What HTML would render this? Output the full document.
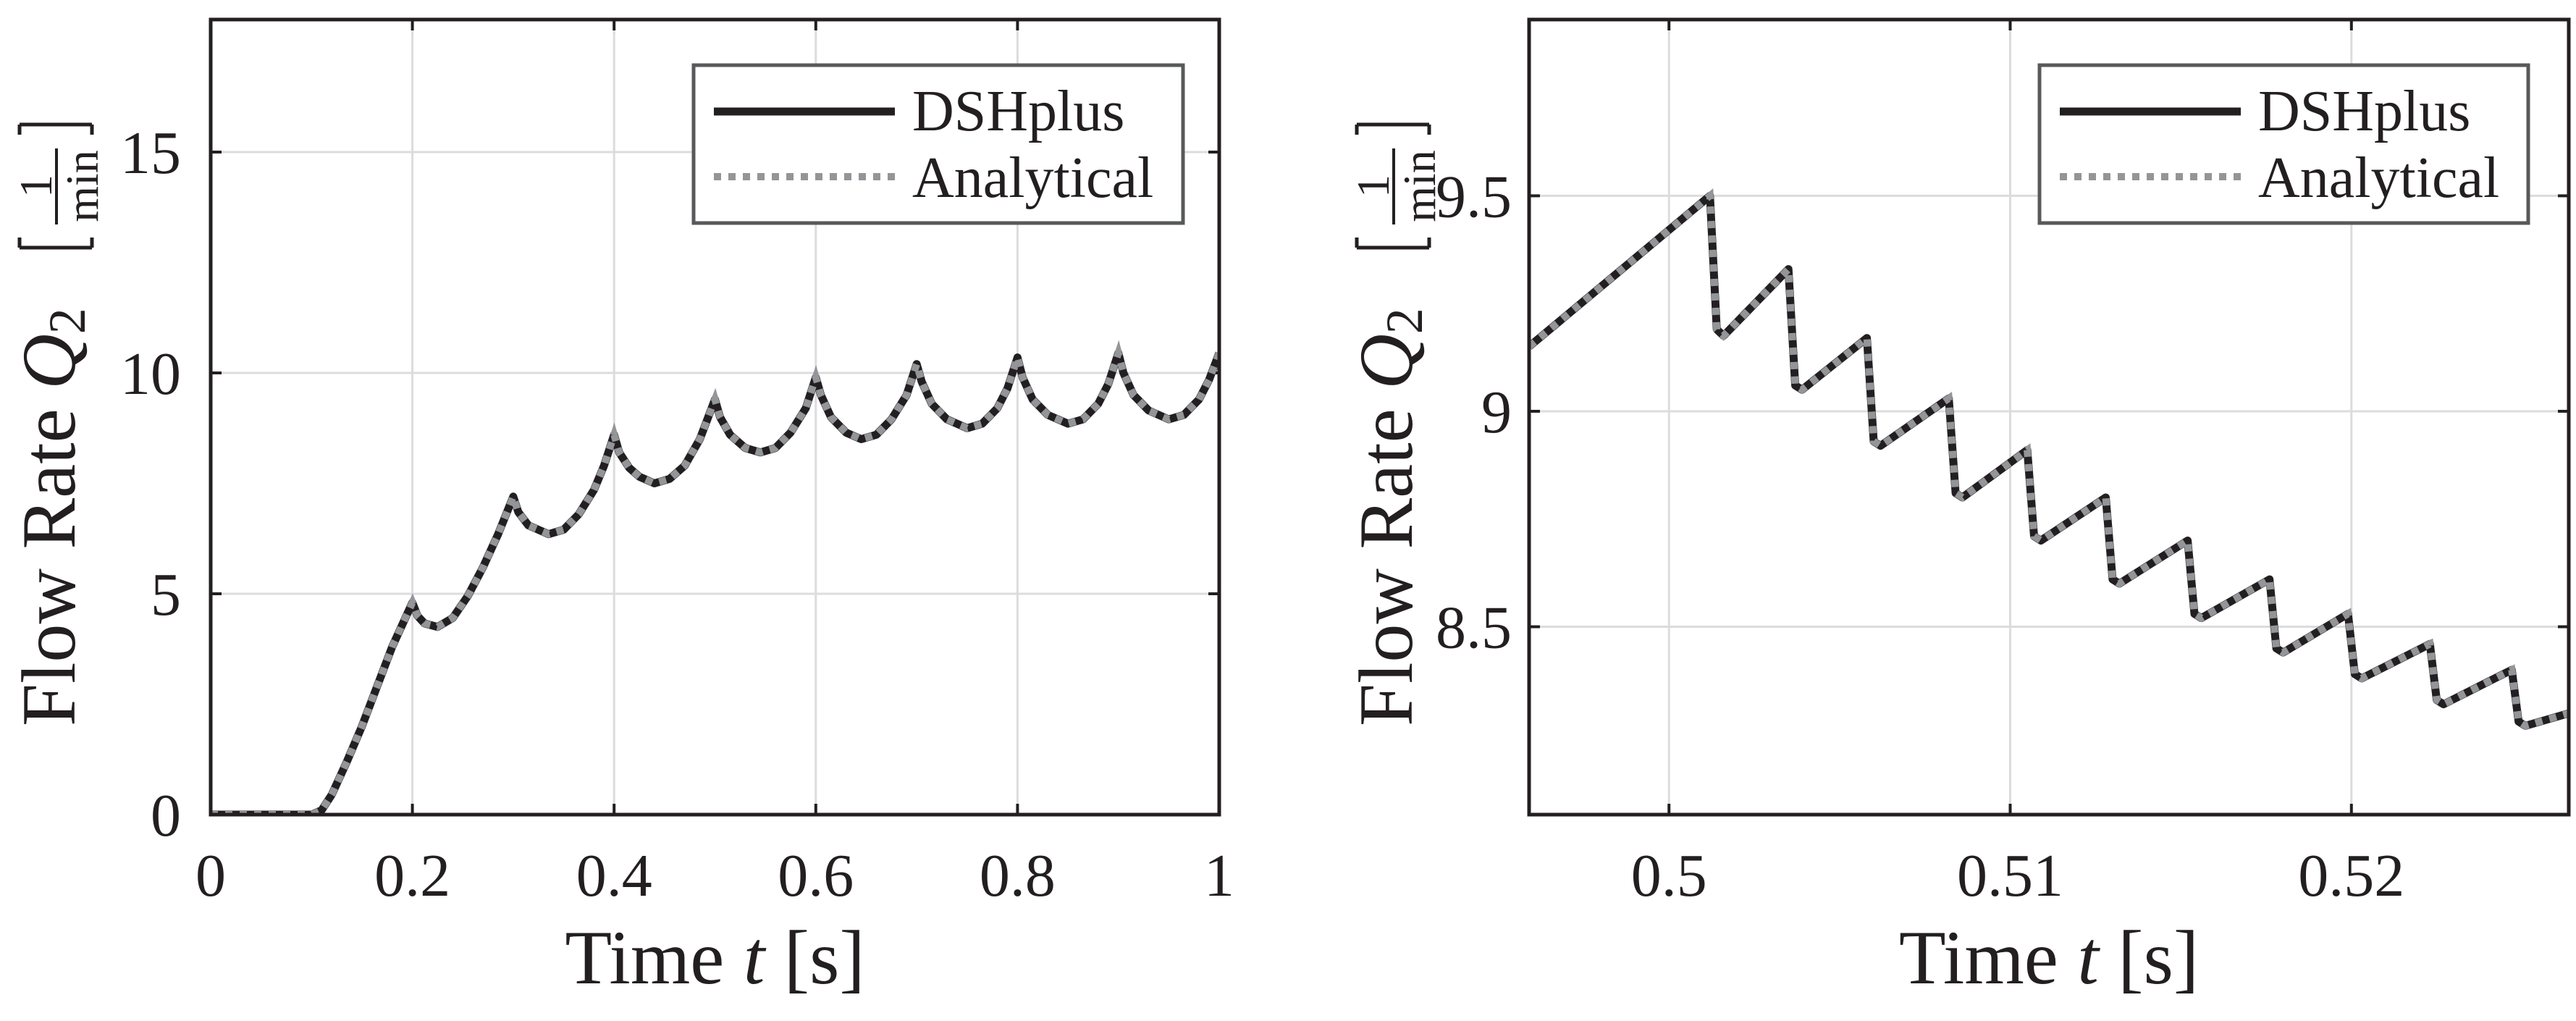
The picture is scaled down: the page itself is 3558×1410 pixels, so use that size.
<!DOCTYPE html>
<html><head><meta charset="utf-8">
<style>html,body{margin:0;padding:0;background:#fff}svg{display:block}
text{font-family:"Liberation Serif",serif;fill:#231f20}</style></head>
<body>
<svg id="fig" width="3558" height="1410" viewBox="0 0 3558 1410" xmlns="http://www.w3.org/2000/svg"></svg>
<script>
// Left chart data
const leftTime = [0,0.1,0.11,0.12,0.135,0.15,0.165,0.18,0.2,
  0.205,0.212,0.225,0.24,0.255,0.27,0.285,0.3,
  0.305,0.315,0.335,0.35,0.365,0.38,0.39,0.4,
  0.405,0.415,0.425,0.44,0.455,0.47,0.485,0.5,
  0.505,0.515,0.53,0.545,0.56,0.575,0.59,0.6,
  0.605,0.615,0.63,0.645,0.66,0.675,0.69,0.7,
  0.705,0.715,0.73,0.75,0.765,0.78,0.79,0.8,
  0.805,0.815,0.83,0.85,0.865,0.88,0.89,0.9,
  0.905,0.915,0.93,0.95,0.965,0.98,0.99,1.0];
const leftFlow = [0,0,0.1,0.45,1.2,2.0,2.9,3.8,4.8,
  4.5,4.33,4.25,4.45,4.95,5.6,6.35,7.2,
  6.85,6.55,6.35,6.45,6.8,7.35,7.9,8.6,
  8.2,7.85,7.65,7.5,7.6,7.9,8.5,9.4,
  9.0,8.6,8.3,8.2,8.3,8.65,9.2,9.9,
  9.5,9.0,8.65,8.5,8.6,8.95,9.5,10.2,
  9.8,9.3,8.95,8.75,8.85,9.2,9.65,10.35,
  9.9,9.4,9.05,8.85,8.95,9.3,9.75,10.45,
  10.0,9.5,9.15,8.95,9.05,9.4,9.85,10.45];
const leftXTicks = [0,0.2,0.4,0.6,0.8,1];
const leftXTickLabels = ["0","0.2","0.4","0.6","0.8","1"];
const leftYTicks = [0,5,10,15];
const leftYTickLabels = ["0","5","10","15"];
// Right chart data
const rightTime = [0.4959,0.5012,0.5014,0.5016,0.5035,0.5037,0.5039,0.5058,0.5060,0.5062,0.5082,0.5084,0.5086,0.5105,0.5107,0.5109,0.5128,0.5130,0.5132,0.5152,0.5154,0.5156,0.5176,0.5178,0.5180,0.5199,0.5201,0.5203,0.5223,0.5225,0.5227,0.5247,0.5249,0.5251,0.5264];
const rightFlow = [9.15,9.5,9.19,9.175,9.33,9.06,9.05,9.17,8.93,8.92,9.03,8.81,8.80,8.91,8.71,8.70,8.80,8.61,8.60,8.70,8.53,8.52,8.61,8.45,8.44,8.53,8.39,8.38,8.46,8.33,8.32,8.40,8.28,8.27,8.30];
const rightXTicks = [0.5,0.51,0.52];
const rightXTickLabels = ["0.5","0.51","0.52"];
const rightYTicks = [8.5,9,9.5];
const rightYTickLabels = ["8.5","9","9.5"];

const NS="http://www.w3.org/2000/svg";
const svg=document.getElementById('fig');
function mk(tag,attrs,parent){const e=document.createElementNS(NS,tag);for(const k in attrs)e.setAttribute(k,attrs[k]);(parent||svg).appendChild(e);return e;}

function chart(cfg){
  const g=mk('g',{});
  
  
  const {x0,x1,y0,y1,xmin,xmax,ymin,ymax}=cfg;
  const sx=v=>x0+(v-xmin)/(xmax-xmin)*(x1-x0);
  const sy=v=>y1-(v-ymin)/(ymax-ymin)*(y1-y0);
  cfg.xTicks.forEach((t,i)=>{
    const gl=mk('line',{x1:sx(t),x2:sx(t),y1:y0,y2:y1,stroke:'#dcdcdc','stroke-width':3},g);
    
    
    mk('line',{x1:sx(t),x2:sx(t),y1:y1,y2:y1-15,stroke:'#231f20','stroke-width':4},g);
    mk('line',{x1:sx(t),x2:sx(t),y1:y0,y2:y0+15,stroke:'#231f20','stroke-width':4},g);
    const tl=mk('text',{x:sx(t),y:1237,'font-size':84,'text-anchor':'middle'},g);
    tl.textContent=cfg.xLabels[i];
    
    
  });
  cfg.yTicks.forEach((t,i)=>{
    const gl=mk('line',{x1:x0,x2:x1,y1:sy(t),y2:sy(t),stroke:'#dcdcdc','stroke-width':3},g);
    
    
    mk('line',{x1:x0,x2:x0+15,y1:sy(t),y2:sy(t),stroke:'#231f20','stroke-width':4},g);
    mk('line',{x1:x1,x2:x1-15,y1:sy(t),y2:sy(t),stroke:'#231f20','stroke-width':4},g);
    const tl=mk('text',{x:cfg.yLabelX,y:sy(t)+29,'font-size':84,'text-anchor':'end'},g);
    tl.textContent=cfg.yLabels[i];
    
    
  });
  const d=cfg.tx.map((t,i)=>(i?'L':'M')+sx(t).toFixed(1)+','+sy(cfg.ty[i]).toFixed(1)).join(' ');
  const clip=mk('clipPath',{id:cfg.name+'-clip'},g);
  mk('rect',{x:x0,y:y0,width:x1-x0,height:y1-y0},clip);
  const l1=mk('path',{d:d,fill:'none',stroke:'#231f20','stroke-width':11,'stroke-linejoin':'round','clip-path':'url(#'+cfg.name+'-clip)'},g);
  
  
  const l2=mk('path',{d:d,fill:'none',stroke:'#939598','stroke-width':10,'stroke-dasharray':'10 10','clip-path':'url(#'+cfg.name+'-clip)'},g);
  
  
  const fr=mk('rect',{x:x0,y:y0,width:x1-x0,height:y1-y0,fill:'none',stroke:'#231f20','stroke-width':5},g);
  
  
  // legend
  const L=cfg.leg;
  const lg=mk('g',{},g);
  
  
  mk('rect',{x:L.x,y:90,width:L.w,height:218,fill:'#fff',stroke:'#58595b','stroke-width':5},lg);
  mk('line',{x1:L.x+28,x2:L.x+278,y1:154,y2:154,stroke:'#231f20','stroke-width':11},lg);
  mk('line',{x1:L.x+28,x2:L.x+278,y1:244,y2:244,stroke:'#939598','stroke-width':10,'stroke-dasharray':'10 10'},lg);
  const t1=mk('text',{x:L.x+302,y:180,'font-size':80},lg);t1.textContent='DSHplus';
  
  
  const t2=mk('text',{x:L.x+302,y:272,'font-size':80},lg);t2.textContent='Analytical';
  
  
  // x title
  const xt=mk('text',{x:(x0+x1)/2,y:1358,'font-size':106,'text-anchor':'middle'},g);
  xt.innerHTML='Time <tspan font-style="italic">t</tspan> [s]';
  
  
  // y title (rotated)
  const b=cfg.yTitleX;
  const yg=mk('g',{transform:'rotate(-90)'},g);
  
  
  const yt=mk('text',{x:-1003,y:b,'font-size':106},yg);
  yt.innerHTML='Flow Rate <tspan font-style="italic">Q</tspan><tspan font-size="72" dy="14">2</tspan>';
  const bk='#231f20';
  mk('path',{d:`M${-342},${b-76} L${-342},${b+24} M${-342},${b-76} L${-328},${b-76} M${-342},${b+24} L${-328},${b+24}`,stroke:bk,'stroke-width':5,fill:'none'},yg);
  mk('path',{d:`M${-172},${b-76} L${-172},${b+24} M${-172},${b-76} L${-186},${b-76} M${-172},${b+24} L${-186},${b+24}`,stroke:bk,'stroke-width':5,fill:'none'},yg);
  mk('line',{x1:-310,x2:-205,y1:b-25,y2:b-25,stroke:bk,'stroke-width':4},yg);
  const f1=mk('text',{x:-257,y:b-32,'font-size':64,'text-anchor':'middle'},yg);f1.textContent='1';
  const f2=mk('text',{x:-257,y:b+32,'font-size':64,'text-anchor':'middle'},yg);f2.textContent='min';
}

chart({name:'left-chart',x0:291,x1:1684,y0:27,y1:1125,xmin:0,xmax:1,ymin:0,ymax:18,
  xTicks:leftXTicks,xLabels:leftXTickLabels,yTicks:leftYTicks,yLabels:leftYTickLabels,
  tx:leftTime,ty:leftFlow,yLabelX:250,yTitleX:103,leg:{x:958,w:676}});
chart({name:'right-chart',x0:2112,x1:3548,y0:27,y1:1125,xmin:0.4959,xmax:0.52637,ymin:8.064,ymax:9.909,
  xTicks:rightXTicks,xLabels:rightXTickLabels,yTicks:rightYTicks,yLabels:rightYTickLabels,
  tx:rightTime,ty:rightFlow,yLabelX:2088,yTitleX:1950,leg:{x:2817,w:675}});
</script>
</body></html>
